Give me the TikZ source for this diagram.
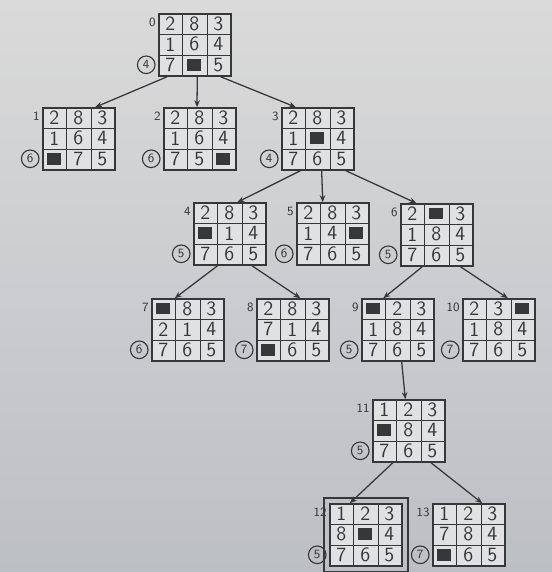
\documentclass[tikz,border=0pt]{standalone}
\usetikzlibrary{calc,arrows.meta}

\definecolor{paperlight}{RGB}{218,218,218}
\definecolor{paperdark}{RGB}{188,191,196}
\definecolor{ink}{RGB}{55,55,58}
\definecolor{cellfill}{RGB}{224,225,226}

\tikzset{
  board/.style={draw=ink, line width=1.1pt, fill=cellfill, rectangle,
    minimum width=1.8cm, minimum height=1.55cm, inner sep=0pt},
  gridline/.style={draw=ink, line width=1pt},
  tile/.style={text=ink, font=\sffamily\Large, inner sep=0pt},
  num/.style={text=ink, font=\sffamily\small, inner sep=1pt},
  cost/.style={draw=ink, circle, text=ink, font=\sffamily\small,
    inner sep=0.6pt, minimum size=0.44cm, line width=0.8pt},
  edge/.style={draw=ink, line width=0.9pt, -{Stealth[length=5pt,width=4pt]}}
}

% black square for the empty tile
\newcommand{\blank}{\textcolor{ink}{\rule{0.34cm}{0.29cm}}}

% one 8-puzzle state: name, position, tiles, number, cost
\newcommand{\board}[5]{%
  \node[board] (#1) at (#2) {};
  \draw[gridline] ($(#1.north west)!1/3!(#1.north east)$) -- ($(#1.south west)!1/3!(#1.south east)$);
  \draw[gridline] ($(#1.north west)!2/3!(#1.north east)$) -- ($(#1.south west)!2/3!(#1.south east)$);
  \draw[gridline] ($(#1.north west)!1/3!(#1.south west)$) -- ($(#1.north east)!1/3!(#1.south east)$);
  \draw[gridline] ($(#1.north west)!2/3!(#1.south west)$) -- ($(#1.north east)!2/3!(#1.south east)$);
  \foreach \val [count=\idx from 0] in {#3} {
    \pgfmathtruncatemacro\col{mod(\idx,3)}
    \pgfmathtruncatemacro\row{div(\idx,3)}
    \node[tile] at ($(#1.north west)+(12+24*\col,10.33+20.67*\row)$) {\val};
  }
  \node[num, anchor=east] at ($(#1.north west)+(-1,9)$) {#4};
  \node[cost] at ($(#1.south west)+(-12,-12)$) {#5};
}

\begin{document}
\begin{tikzpicture}[x=0.025cm, y=-0.025cm]
        % Paper
        \shade[top color=paperlight, bottom color=paperdark] (0,0) rectangle (552,572);
        \useasboundingbox (0,0) rectangle (552,572);

        % Search tree states
        \board{b0}{195,45}{2,8,3,1,6,4,7,\blank,5}{0}{4}
        \board{b1}{79,139}{2,8,3,1,6,4,\blank,7,5}{1}{6}
        \board{b2}{200,139}{2,8,3,1,6,4,7,5,\blank}{2}{6}
        \board{b3}{318,139}{2,8,3,1,\blank,4,7,6,5}{3}{4}
        \board{b4}{230,234}{2,8,3,\blank,1,4,7,6,5}{4}{5}
        \board{b5}{333,234}{2,8,3,1,4,\blank,7,6,5}{5}{6}
        \board{b6}{437,235}{2,\blank,3,1,8,4,7,6,5}{6}{5}
        \board{b7}{188,330}{\blank,8,3,2,1,4,7,6,5}{7}{6}
        \board{b8}{293,330}{2,8,3,7,1,4,\blank,6,5}{8}{7}
        \board{b9}{398,330}{\blank,2,3,1,8,4,7,6,5}{9}{5}
        \board{b10}{499,330}{2,3,\blank,1,8,4,7,6,5}{10}{7}
        \board{b11}{409,431}{1,2,3,\blank,8,4,7,6,5}{11}{5}
        \board{b12}{366,535}{1,2,3,8,\blank,4,7,6,5}{12}{5}
        \board{b13}{469,535}{1,2,3,7,8,4,\blank,6,5}{13}{7}

        % Goal state gets a second frame
        \draw[ink, line width=1.6pt] ($(b12.north west)+(-5,-5)$) rectangle ($(b12.south east)+(5,5)$);

        % Expansions
        \foreach \p/\q/\s/\e in {b0/b1/0.12/0.72, b0/b2/0.53/0.46, b0/b3/0.85/0.2,
            b3/b4/0.26/0.6, b3/b5/0.55/0.36, b3/b6/0.88/0.22,
            b4/b7/0.33/0.32, b4/b8/0.8/0.6, b6/b9/0.3/0.3, b6/b10/0.82/0.62,
            b9/b11/0.55/0.45, b11/b12/0.28/0.28, b11/b13/0.8/0.68}
          \draw[edge] ($(\p.south west)!\s!(\p.south east)$) -- ($(\q.north west)!\e!(\q.north east)$);

\end{tikzpicture}
\end{document}
